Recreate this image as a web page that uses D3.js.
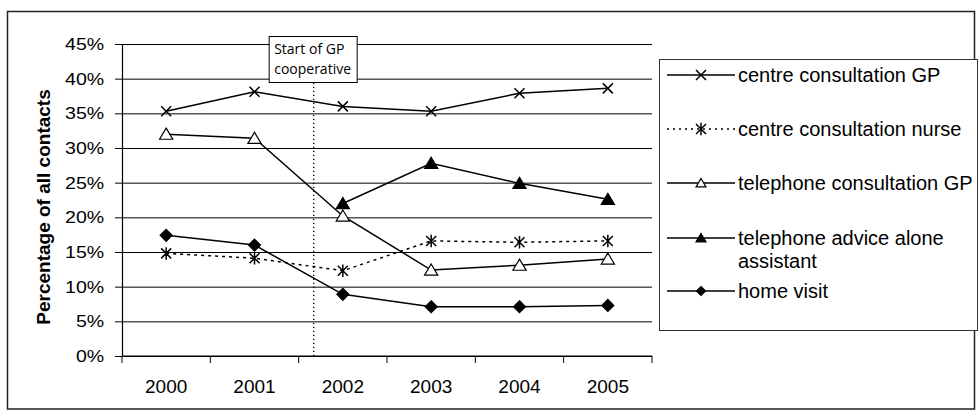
<!DOCTYPE html>
<html>
<head>
<meta charset="utf-8">
<script src="https://cdn.jsdelivr.net/npm/d3@7"></script>
<style>
  html, body { margin: 0; padding: 0; background: #fff; }
  svg { display: block; }
  text { font-family: "Liberation Sans", Arial, sans-serif; fill: #000; }
  text.note { font-family: "Open Sans", sans-serif; }
</style>
</head>
<body>
<svg id="chart" width="980" height="417"></svg>
<script>
// Contact types per year, as a percentage of all contacts
const years = ["2000", "2001", "2002", "2003", "2004", "2005"];
const centreGP = [35.3, 38.1, 36.0, 35.3, 37.9, 38.6];
const centreNurse = [14.8, 14.1, 12.3, 16.6, 16.4, 16.6];
const phoneGP = [32.0, 31.4, 20.2, 12.4, 13.1, 14.0];
const phoneAssistant = [null, null, 22.0, 27.8, 24.9, 22.6];
const homeVisit = [17.4, 16.0, 8.9, 7.1, 7.1, 7.3];
const yTicks = [0, 5, 10, 15, 20, 25, 30, 35, 40, 45];
const seriesLabels = [
  ["centre consultation GP"],
  ["centre consultation nurse"],
  ["telephone consultation GP"],
  ["telephone advice alone", "assistant"],
  ["home visit"]
];
// The GP cooperative started partway through 2002's slot on the axis
const coopStart = { year: "2002", frac: 0.17 };
const coopLabel = ["Start of GP", "cooperative"];

const series = [
  { values: centreGP, marker: "cross", dash: null },
  { values: centreNurse, marker: "star", dash: "3,4" },
  { values: phoneGP, marker: "triOpen", dash: null },
  { values: phoneAssistant, marker: "triFilled", dash: null },
  { values: homeVisit, marker: "diamond", dash: null }
].map((s, i) => ({ ...s, label: seriesLabels[i] }));

const svg = d3.select("#chart");

// Outer frame
svg.append("rect")
  .attr("x", 7.5).attr("y", 11.5).attr("width", 967).attr("height", 397.5)
  .attr("fill", "#fff").attr("stroke", "#222").attr("stroke-width", 1.5);

const plot = { left: 122, right: 652, top: 44, bottom: 356 };

const x = d3.scaleBand().domain(years).range([plot.left, plot.right]);
const xc = d => x(d) + x.bandwidth() / 2;
const y = d3.scaleLinear().domain([0, 45]).range([plot.bottom, plot.top]);

// Horizontal gridlines
svg.append("g")
  .attr("transform", `translate(${plot.left},0)`)
  .call(d3.axisLeft(y).tickValues(yTicks).tickSize(-(plot.right - plot.left)).tickFormat(""))
  .call(g => g.select(".domain").remove())
  .call(g => g.selectAll("line").attr("stroke", "#000").attr("stroke-width", 1));

// Y axis with horizontally stretched labels
const yAxisG = svg.append("g")
  .attr("transform", `translate(${plot.left},0)`)
  .call(d3.axisLeft(y).tickValues(yTicks).tickSize(7).tickSizeOuter(0).tickPadding(8.5)
    .tickFormat(d => d + "%"));
yAxisG.select(".domain").attr("stroke", "#000").attr("stroke-width", 1.2);
yAxisG.selectAll("line").attr("stroke", "#000");
yAxisG.selectAll("text")
  .attr("font-size", 17)
  .attr("transform", "scale(1.15,1)");

// X axis: labels at category centres, ticks on category boundaries
const xAxisG = svg.append("g")
  .attr("transform", `translate(0,${plot.bottom})`)
  .call(d3.axisBottom(x).tickSize(0).tickPadding(24));
xAxisG.select(".domain").remove();
xAxisG.selectAll("text").attr("font-size", 19);

svg.append("line")
  .attr("x1", plot.left).attr("x2", plot.right)
  .attr("y1", plot.bottom).attr("y2", plot.bottom)
  .attr("stroke", "#000").attr("stroke-width", 1.2);
const boundaries = years.map(d => x(d)).concat([x(years[years.length - 1]) + x.bandwidth()]);
svg.append("g").selectAll("line").data(boundaries).join("line")
  .attr("x1", d => d).attr("x2", d => d)
  .attr("y1", plot.bottom).attr("y2", plot.bottom + 7)
  .attr("stroke", "#000");

// Y axis title
svg.append("text")
  .attr("transform", `translate(50,${(plot.top + plot.bottom) / 2 + 7}) rotate(-90)`)
  .attr("text-anchor", "middle")
  .attr("font-size", 19).attr("font-weight", "bold")
  .text("Percentage of all contacts");

// Cooperative start marker and its label box
const coopX = x(coopStart.year) + coopStart.frac * x.bandwidth();
svg.append("line")
  .attr("x1", coopX).attr("x2", coopX)
  .attr("y1", plot.bottom).attr("y2", 82)
  .attr("stroke", "#000").attr("stroke-width", 1.3)
  .attr("stroke-dasharray", "1.3,2.7");
svg.append("rect")
  .attr("x", coopX - 44.5).attr("y", 36.5).attr("width", 88).attr("height", 46)
  .attr("fill", "#fff").attr("stroke", "#000").attr("stroke-width", 1);
svg.append("g").selectAll("text").data(coopLabel).join("text")
  .attr("class", "note")
  .attr("x", coopX - 39.5)
  .attr("y", (d, i) => 54 + i * 19.5)
  .attr("font-size", 14)
  .text(d => d);

// Marker shapes
const markerPath = {
  cross: s => `M${-s},${-s}L${s},${s}M${-s},${s}L${s},${-s}`,
  star: s => `M${-s},${-s}L${s},${s}M${-s},${s}L${s},${-s}M0,${-s * 1.25}L0,${s * 1.25}`,
  triOpen: s => `M0,${-s}L${s * 1.1},${s * 0.85}L${-s * 1.1},${s * 0.85}Z`,
  triFilled: s => `M0,${-s}L${s * 1.1},${s * 0.85}L${-s * 1.1},${s * 0.85}Z`,
  diamond: s => `M0,${-s}L${s},0L0,${s}L${-s},0Z`
};
const markerFill = { cross: "none", star: "none", triOpen: "#fff", triFilled: "#000", diamond: "#000" };
const plotSize = { cross: 5, star: 5, triOpen: 6, triFilled: 6, diamond: 6 };
const legendSize = { cross: 5, star: 5, triOpen: 4.5, triFilled: 4.5, diamond: 4.5 };

function drawMarker(g, type, cx, cy, size) {
  g.append("path")
    .attr("transform", `translate(${cx},${cy})`)
    .attr("d", markerPath[type](size))
    .attr("fill", markerFill[type])
    .attr("stroke", "#000")
    .attr("stroke-width", type === "cross" || type === "star" ? 1.5 : 1.2);
}

// Series lines and markers
const line = d3.line()
  .defined(d => d.v !== null)
  .x(d => xc(d.year))
  .y(d => y(d.v));

const linesG = svg.append("g");
const markersG = svg.append("g");
series.forEach(s => {
  const pts = years.map((yr, i) => ({ year: yr, v: s.values[i] }));
  linesG.append("path")
    .attr("d", line(pts))
    .attr("fill", "none")
    .attr("stroke", "#000")
    .attr("stroke-width", 1.5)
    .attr("stroke-dasharray", s.dash);
  pts.filter(p => p.v !== null).forEach(p => {
    drawMarker(markersG, s.marker, xc(p.year), y(p.v), plotSize[s.marker]);
  });
});

// Legend
svg.append("rect")
  .attr("x", 659.5).attr("y", 59.5).attr("width", 318).attr("height", 271)
  .attr("fill", "#fff").attr("stroke", "#333").attr("stroke-width", 1);

const legendRows = [75, 129, 183, 238, 291];
series.forEach((s, i) => {
  const ly = legendRows[i];
  const g = svg.append("g");
  g.append("line")
    .attr("x1", 667).attr("x2", 735)
    .attr("y1", ly).attr("y2", ly)
    .attr("stroke", "#000").attr("stroke-width", 1.5)
    .attr("stroke-dasharray", s.dash ? "2,4" : null);
  drawMarker(g, s.marker, 701, ly, legendSize[s.marker]);
  s.label.forEach((t, j) => {
    g.append("text")
      .attr("x", 738)
      .attr("y", ly + 6.5 + j * 23)
      .attr("font-size", 20)
      .text(t);
  });
});
</script>
</body>
</html>
